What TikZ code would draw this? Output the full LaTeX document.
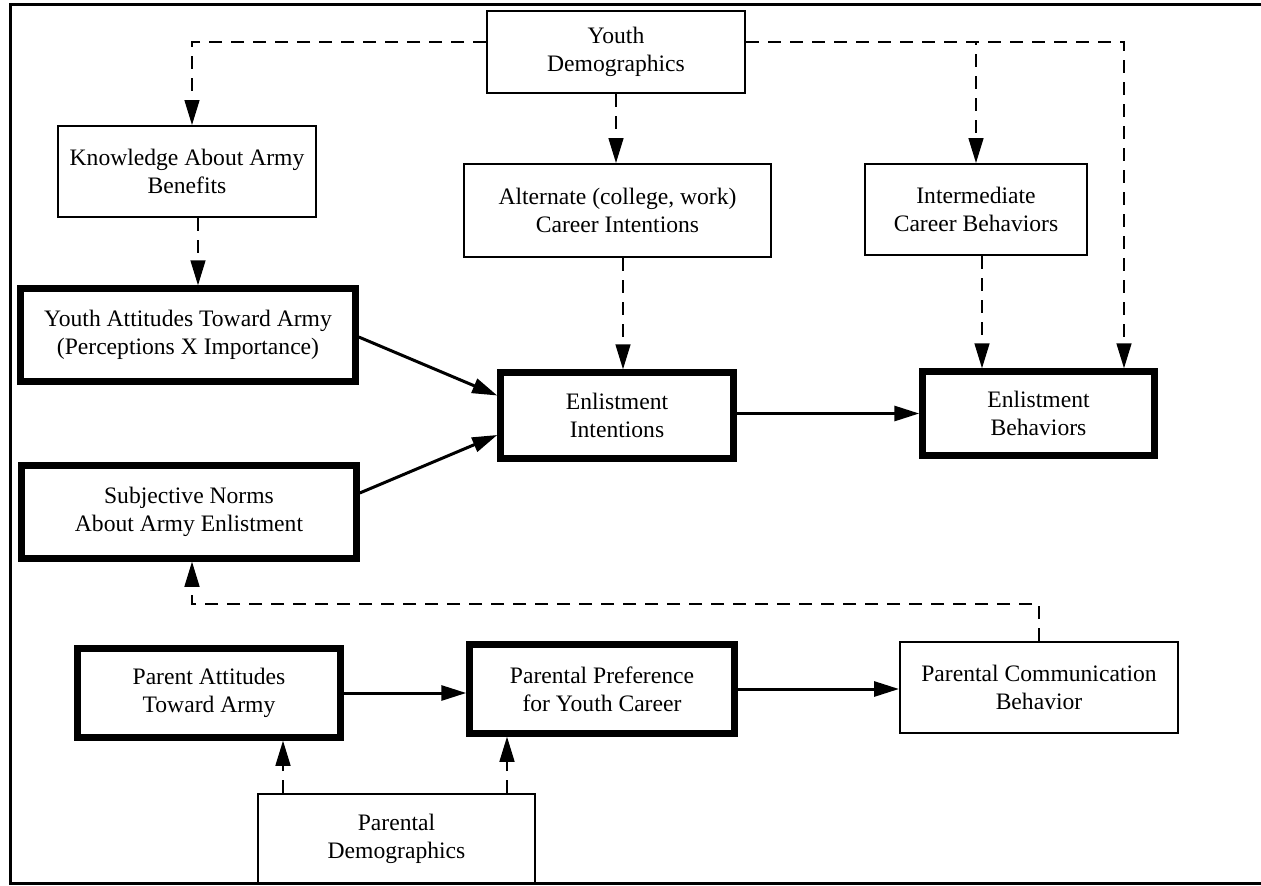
\documentclass[tikz,border=0pt]{standalone}
\usepackage{fontspec}
\setmainfont{Liberation Serif}
\usetikzlibrary{arrows.meta}

\tikzset{
  box/.style={draw, line width=2pt, align=center, inner sep=0pt,
    font=\fontsize{23.6}{28}\selectfont},
  thickbox/.style={box, line width=6.5pt},
  tip/.style={-{Triangle[length=25pt,width=15pt]}},
  dsh/.style={tip, line width=1.5pt, dash pattern=on 13pt off 9pt},
  sol/.style={tip, line width=3pt},
}

\begin{document}
\begin{tikzpicture}[x=1pt,y=-1pt]
\useasboundingbox (0,0) rectangle (1261,886);

% frame
\draw[line width=3pt] (1261,4) -- (10,4) -- (10,883) -- (1261,883);

% boxes (minimum sizes are the outer sizes less the line width)
\node[box, minimum width=258pt, minimum height=82pt] (yd) at (616,52) {Youth\\Demographics};
\node[box, minimum width=258pt, minimum height=91pt] (kn) at (187,171.5) {Knowledge About Army\\Benefits};
\node[box, minimum width=307pt, minimum height=93pt] (alt) at (617.5,210.5) {Alternate (college, work)\\Career Intentions};
\node[box, minimum width=222pt, minimum height=91pt] (int) at (976,209.5) {Intermediate\\Career Behaviors};

\node[thickbox, minimum width=335pt, minimum height=93pt] (ya) at (188,335) {Youth Attitudes Toward Army\\(Perceptions X Importance)};
\node[thickbox, minimum width=335pt, minimum height=93pt] (sn) at (189,512) {Subjective Norms\\About Army Enlistment};
\node[thickbox, minimum width=233pt, minimum height=86pt] (ei) at (617,415.5) {Enlistment\\Intentions};
\node[thickbox, minimum width=232pt, minimum height=84pt] (eb) at (1038.5,413.5) {Enlistment\\Behaviors};

\node[thickbox, minimum width=263pt, minimum height=89pt] (pa) at (209,693) {Parent Attitudes\\Toward Army};
\node[thickbox, minimum width=265pt, minimum height=89pt] (pp) at (602,689) {Parental Preference\\for Youth Career};
\node[box, minimum width=278pt, minimum height=91pt] (pc) at (1039,687.5) {Parental Communication\\Behavior};
\node[box, minimum width=277pt, minimum height=89pt] (pd) at (396.5,838.5) {Parental\\Demographics};

% youth demographics fan-out
\draw[dsh] ([yshift=10pt]yd.west) -| ([xshift=5pt]kn.north);
\draw[dsh] ([yshift=10pt]yd.east) -| (int.north);
\draw[dsh] ([yshift=10pt]yd.east) -| ([xshift=85.5pt]eb.north);
\draw[dsh] (yd.south) -- (yd.south |- alt.north);

% dashed influences
\draw[dsh] ([xshift=11pt]kn.south) -- ([xshift=11pt]kn.south |- ya.north);
\draw[dsh] ([xshift=5.5pt]alt.south) -- ([xshift=5.5pt]alt.south |- ei.north);
\draw[dsh] ([xshift=6pt]int.south) -- ([xshift=6pt]int.south |- eb.north);

% solid paths to enlistment
\draw[sol] ([yshift=-2pt]ya.east) -- ([yshift=20pt]ei.west);
\draw[sol] ([yshift=19pt]sn.east) -- ([yshift=-19.5pt]ei.west);
\draw[sol] ([yshift=2pt]ei.east) -- ([yshift=2pt]ei.east -| eb.west);

% parent chain
\draw[sol] (pa.east) -- (pa.east -| pp.west);
\draw[sol] (pp.east) -- (pp.east -| pc.west);
\draw[dsh] ([xshift=74pt]pa.south |- pd.north) -- ([xshift=74pt]pa.south);
\draw[dsh] ([xshift=-95pt]pp.south |- pd.north) -- ([xshift=-95pt]pp.south);

% feedback from parental communication to subjective norms
\draw[dsh] (pc.north) -- ++(0,-37) -| ([xshift=3pt]sn.south);
\end{tikzpicture}
\end{document}
